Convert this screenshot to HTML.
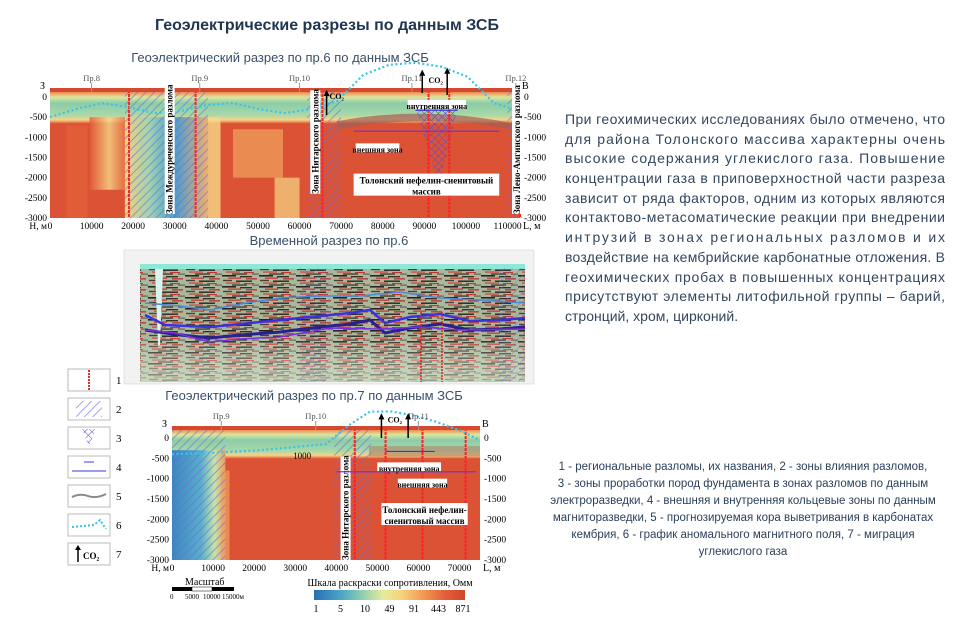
<!DOCTYPE html>
<html><head><meta charset="utf-8">
<style>
body{margin:0;background:#fff;width:972px;height:622px;overflow:hidden;font-family:"Liberation Sans",sans-serif;}
.t{font-family:"Liberation Serif",serif;}
</style></head>
<body>
<svg id="svg" width="972" height="622" xmlns="http://www.w3.org/2000/svg">
<defs>
<linearGradient id="cbar" x1="0" x2="1">
<stop offset="0" stop-color="#2a6fb0"/><stop offset=".18" stop-color="#4aa6c8"/><stop offset=".32" stop-color="#8fd0b0"/><stop offset=".46" stop-color="#e6ec9c"/><stop offset=".58" stop-color="#f6d27a"/><stop offset=".72" stop-color="#f29a55"/><stop offset=".86" stop-color="#e4623a"/><stop offset="1" stop-color="#d2442c"/></linearGradient>
<linearGradient id="layer1" x1="0" y1="0" x2="0" y2="1">
<stop offset="0" stop-color="#e0573a"/><stop offset=".1" stop-color="#f2a060"/><stop offset=".22" stop-color="#d8e8a0"/><stop offset=".4" stop-color="#8ccca8"/><stop offset=".75" stop-color="#a8d8a8"/><stop offset=".9" stop-color="#f4d488"/><stop offset="1" stop-color="#e6683c"/></linearGradient>
<linearGradient id="blueCol" x1="0" x2="1">
<stop offset="0" stop-color="#f4cf80"/><stop offset=".3" stop-color="#9ed4b0"/><stop offset=".6" stop-color="#4a9ccc"/><stop offset="1" stop-color="#f0b070"/></linearGradient>
<linearGradient id="yelCol" x1="0" x2="1">
<stop offset="0" stop-color="#e25a38"/><stop offset=".5" stop-color="#f6d888"/><stop offset="1" stop-color="#e25a38"/></linearGradient>
<linearGradient id="blueLeft" x1="0" x2="1">
<stop offset="0" stop-color="#3a86c0"/><stop offset=".55" stop-color="#5aaecc"/><stop offset=".8" stop-color="#c8e4a8"/><stop offset="1" stop-color="#f09a58"/></linearGradient>
<pattern id="hatch" width="6" height="6" patternUnits="userSpaceOnUse" patternTransform="rotate(45)">
<rect width="6" height="6" fill="none"/><line x1="0" y1="0" x2="0" y2="6" stroke="#6a6ad8" stroke-width="1.6" opacity=".75"/></pattern>
<pattern id="cross" width="5" height="5" patternUnits="userSpaceOnUse" patternTransform="rotate(45)">
<path d="M0 0V5M0 0H5" stroke="#5a4ad0" stroke-width="1"/></pattern>
<pattern id="seis" width="37" height="11" patternUnits="userSpaceOnUse">
<rect width="37" height="11" fill="#a9b89c"/>
<rect x="0" y="0" width="14" height="1.6" fill="#2a2420"/><rect x="18" y="1" width="12" height="1.4" fill="#3a3028"/>
<rect x="6" y="2.5" width="13" height="1.3" fill="#c83a30"/><rect x="24" y="3.2" width="11" height="1.3" fill="#b83228"/>
<rect x="1" y="4.8" width="9" height="1.4" fill="#4a4038"/><rect x="14" y="5.5" width="16" height="1.4" fill="#2a2420"/>
<rect x="4" y="7.4" width="14" height="1.3" fill="#d04a3c"/><rect x="22" y="8" width="10" height="1.2" fill="#c03a30"/>
<rect x="10" y="9.4" width="15" height="1.3" fill="#3a3430"/><rect x="30" y="9.6" width="7" height="1" fill="#5a5048"/></pattern>
<linearGradient id="seisFade" x1="0" y1="0" x2="0" y2="1">
<stop offset="0" stop-color="#fff" stop-opacity="0"/><stop offset=".6" stop-color="#fff" stop-opacity="0"/><stop offset="1" stop-color="#d8ecd0" stop-opacity=".6"/></linearGradient>
</defs>

<text x="327" y="30" text-anchor="middle" font-size="16" font-weight="bold" fill="#1f3550">Геоэлектрические разрезы по данным ЗСБ</text>

<g>
<text x="280" y="62" text-anchor="middle" font-size="13" fill="#3a4f68">Геоэлектрический разрез по пр.6 по данным ЗСБ</text>
<g id="c1"></g>
</g>

<g>
<text x="329" y="245" text-anchor="middle" font-size="13" fill="#3a4f68">Временной разрез по пр.6</text>
<rect x="124" y="250" width="410" height="134" fill="#f2f2f2" stroke="#ccc" stroke-width=".5"/>
<rect x="140" y="266" width="385" height="116" fill="url(#seis)"/>
<rect x="140" y="266" width="385" height="116" fill="url(#seisFade)"/>
<rect x="140" y="264" width="385" height="5" fill="#8ee8d8"/>
<polygon points="155,269 163,269 160,345 158,345" fill="#d8f4ee"/>
<rect x="300" y="268" width="30" height="114" fill="url(#hatch)" opacity=".6"/>
<rect x="498" y="268" width="27" height="114" fill="url(#hatch)" opacity=".6"/>
<path d="M145 303 L180 306 L210 310 L240 304 L280 298 L320 296 L360 296 L400 292 L440 298 L480 300 L525 303" stroke="#4a8ad8" stroke-width="1.5" fill="none"/>
<path d="M145 315 L165 325 L210 327 L240 324 L280 320 L320 316 L350 313 L370 310 L385 323 L410 317 L440 314 L470 321 L500 320 L525 318" stroke="#3a32e0" stroke-width="2.5" fill="none"/>
<path d="M145 330 L180 335 L210 338 L240 335 L280 332 L320 327 L350 324 L370 320 L385 333 L410 328 L440 324 L470 330 L500 329 L525 327" stroke="#2a2090" stroke-width="3" fill="none"/>
<path d="M145 330 L175 333 L210 342 L240 339 L280 337 L330 328 L380 329 L420 327 L460 330 L525 329" stroke="#7a30e0" stroke-width="1.5" fill="none"/>
<line x1="421" y1="312" x2="421" y2="382" stroke="#e02020" stroke-width="1.5" stroke-dasharray="2 1"/>
<line x1="442" y1="312" x2="442" y2="382" stroke="#e02020" stroke-width="1.5" stroke-dasharray="2 1"/>
</g>

<g font-size="14" fill="#33465e">
<text x="565" y="124" textLength="380" lengthAdjust="spacing">При геохимических исследованиях было отмечено, что</text>
<text x="565" y="144" textLength="380" lengthAdjust="spacing">для района Толонского массива характерны очень</text>
<text x="565" y="163" textLength="380" lengthAdjust="spacing">высокие содержания углекислого газа. Повышение</text>
<text x="565" y="183" textLength="380" lengthAdjust="spacing">концентрации газа в приповерхностной части разреза</text>
<text x="565" y="203" textLength="380" lengthAdjust="spacing">зависит от ряда факторов, одним из которых являются</text>
<text x="565" y="222" textLength="380" lengthAdjust="spacing">контактово-метасоматические реакции при внедрении</text>
<text x="565" y="242" textLength="380" lengthAdjust="spacing">интрузий в зонах региональных разломов и их</text>
<text x="565" y="262" textLength="380" lengthAdjust="spacing">воздействие на кембрийские карбонатные отложения. В</text>
<text x="565" y="282" textLength="380" lengthAdjust="spacing">геохимических пробах в повышенных концентрациях</text>
<text x="565" y="301" textLength="380" lengthAdjust="spacing">присутствуют элементы литофильной группы – барий,</text>
<text x="565" y="321">стронций, хром, цирконий.</text>
</g>

<g font-size="11" class="t">
<g><rect x="68" y="369" width="42" height="22" fill="#fff" stroke="#bbb"/><line x1="89" y1="370" x2="89" y2="390" stroke="#e03030" stroke-width="2" stroke-dasharray="2 1"/><text x="116" y="384">1</text></g>
<g><rect x="68" y="398" width="42" height="22" fill="#fff" stroke="#bbb"/><rect x="76" y="401" width="26" height="16" fill="url(#hatch)"/><text x="116" y="413">2</text></g>
<g><rect x="68" y="427" width="42" height="22" fill="#fff" stroke="#bbb"/><polygon points="82,429 96,429 89,446" fill="url(#cross)"/><text x="116" y="442">3</text></g>
<g><rect x="68" y="456" width="42" height="22" fill="#fff" stroke="#bbb"/><line x1="72" y1="471" x2="106" y2="471" stroke="#3a3ae0"/><line x1="84" y1="462" x2="94" y2="462" stroke="#3a3ae0"/><text x="116" y="471">4</text></g>
<g><rect x="68" y="485" width="42" height="22" fill="#fff" stroke="#bbb"/><path d="M72 497 Q80 493 88 496 T106 494" stroke="#888" stroke-width="2" fill="none"/><text x="116" y="500">5</text></g>
<g><rect x="68" y="514" width="42" height="22" fill="#fff" stroke="#bbb"/><path d="M72 527 L94 525 L100 520 L106 529" stroke="#30c0e8" stroke-width="2" stroke-dasharray="2 2" fill="none"/><text x="116" y="529">6</text></g>
<g><rect x="68" y="543" width="42" height="22" fill="#fff" stroke="#bbb"/><line x1="78" y1="562" x2="78" y2="548" stroke="#000" stroke-width="1.5"/><polygon points="75,550 78,545 81,550"/><text x="83" y="559" font-size="9" font-weight="bold">CO₂</text><text x="116" y="558">7</text></g>
</g>

<g font-size="11.5" fill="#2a3f5a" text-anchor="middle">
<text x="743" y="470">1 - региональные разломы, их названия, 2 - зоны влияния разломов,</text>
<text x="743" y="487">3 - зоны проработки пород фундамента в зонах разломов по данным</text>
<text x="743" y="504">электроразведки, 4 - внешняя и внутренняя кольцевые зоны по данным</text>
<text x="743" y="521">магниторазведки, 5 - прогнозируемая кора выветривания в карбонатах</text>
<text x="743" y="538">кембрия, 6 - график аномального магнитного поля, 7 - миграция</text>
<text x="743" y="555">углекислого газа</text>
</g>

<g>
<text x="314" y="400" text-anchor="middle" font-size="13" fill="#3a4f68">Геоэлектрический разрез по пр.7 по данным ЗСБ</text>
<g id="c2"></g>
</g>

<g class="t" font-size="7">
<text x="185" y="585" font-size="10">Масштаб</text>
<rect x="172" y="587" width="20" height="4" fill="#000"/><rect x="192" y="587" width="20" height="4" fill="#fff" stroke="#000" stroke-width=".5"/><rect x="212" y="587" width="22" height="4" fill="#000"/>
<text x="170" y="599">0</text><text x="185" y="599">5000</text><text x="203" y="599">10000</text><text x="222" y="599">15000м</text>
</g>
<g class="t" font-size="10">
<text x="390" y="586" text-anchor="middle">Шкала раскраски сопротивления, Омм</text>
<rect x="314" y="590" width="151" height="10" fill="url(#cbar)"/>
<g id="cbLabels"></g>
</g>
</svg>
<script>
const NS='http://www.w3.org/2000/svg';
const c1Ticks=[0,10000,20000,30000,40000,50000,60000,70000,80000,90000,100000,110000];
const c2Ticks=[0,10000,20000,30000,40000,50000,60000,70000];
const depthTicks=[0,-500,-1000,-1500,-2000,-2500,-3000];
const cbValues=['1','5','10','49','91','443','871'];
const c1Profiles=[['Пр.8',10000],['Пр.9',36000],['Пр.10',60000],['Пр.11',87000],['Пр.12',112000]];
const c2Profiles=[['Пр.9',12000],['Пр.10',35000],['Пр.11',60000]];
const c1FaultZones=[[18000,38000],[61800,70000],[110000,113500]];
const c1Faults=[19000,35000,65500,91000,96000,113000];
const c2FaultZones=[[0,13000],[39500,48500]];
const c2Faults=[44500,52000,61000,71500];
const c1Mag=[-500,-300,-150,-250,-400,-350,-200,-150,-300,-400,-300,-100,550,800,850,750,500,-150,-350];
const c2Mag=[-400,-380,-360,-330,-300,-250,-200,-150,300,650,650,550,400,200,-50];

function el(t,a,p,txt){const e=document.createElementNS(NS,t);for(const k in a)e.setAttribute(k,a[k]);if(txt!==undefined)e.textContent=txt;p.appendChild(e);return e;}

function chart(g,o){
  const X=v=>o.x0+(v-0)*(o.x1-o.x0)/o.xmax;
  const Y=v=>o.y0+(0-v)*(o.y1-o.y0)/3000;
  const W=o.x1-o.x0, top=Y(0)-o.topOff;
  el('rect',{x:o.x0,y:top,width:W,height:o.y1-top,fill:'#dc5234'},g);
  o.paint(g,X,Y,top);
  o.zones.forEach(z=>{const r=el('rect',{x:X(z[0]),y:top,width:X(z[1])-X(z[0]),height:o.y1-top,fill:'url(#hatch)'},g);
    });
  o.faults.forEach(f=>{const l=el('line',{x1:X(f),x2:X(f),y1:top,y2:o.y1,stroke:'#f02828','stroke-width':2,'stroke-dasharray':'3 1'},g);
    });
  el('rect',{x:o.x0,y:top-2,width:W,height:4,fill:'#d44a30'},g);
  const pts=o.mag.map((v,i)=>X(i*o.xmax/(o.mag.length-1))+','+Y(v)).join(' ');
  const m=el('polyline',{points:pts,fill:'none',stroke:'#34c4ec','stroke-width':2.2,'stroke-dasharray':'2 2.5'},g);
  
  depthTicks.forEach(d=>{
    el('text',{x:o.x0-3,y:Y(d)+3,'text-anchor':'end','font-size':9.5,class:'t'},g,d);
    el('text',{x:o.x1+4,y:Y(d)+3,'font-size':9.5,class:'t'},g,d);
  });
  o.ticks.forEach(t=>el('text',{x:X(t),y:o.y1+11,'text-anchor':'middle','font-size':9.5,class:'t'},g,t));
  el('text',{x:o.x0-3,y:o.y1+11,'text-anchor':'end','font-size':9.5,class:'t'},g,'H, м');
  el('text',{x:o.x1+3,y:o.y1+11,'font-size':10,class:'t'},g,'L, м');
  el('text',{x:o.x0-10,y:top-1,'font-size':10,class:'t'},g,'З');
  el('text',{x:o.x1+2,y:top-1,'font-size':10,class:'t'},g,'В');
  o.profiles.forEach(p=>{el('text',{x:X(p[1]),y:top-9,'text-anchor':'middle','font-size':8.5,class:'t',fill:'#555'},g,p[0]);
    el('line',{x1:X(p[1]),x2:X(p[1]),y1:top-7,y2:top+2,stroke:'#999'},g);});
  o.extra(g,X,Y,top);
}

function label(g,x,y,w,h,lines,fs){el('rect',{x:x,y:y,width:w,height:h,fill:'#fff'},g);
  lines.forEach((s,i)=>el('text',{x:x+w/2,y:y+fs+1+i*(fs+2),'text-anchor':'middle','font-size':fs,'font-weight':'bold',class:'t'},g,s));}
function vlabel(g,x,y,s,fs){const t=el('text',{x:0,y:0,'font-size':fs,'font-weight':'bold',class:'t',transform:`translate(${x},${y}) rotate(-90)`},g,s);
  el('rect',{x:x-fs+1,y:y-s.length*fs*0.5,width:fs+1,height:s.length*fs*0.5,fill:'#fff'},g,undefined);g.appendChild(t);}
function co2(g,x,y1,y2){el('line',{x1:x,x2:x,y1:y1,y2:y2,stroke:'#000','stroke-width':1.5},g);el('polygon',{points:`${x-3},${y2+5} ${x},${y2-1} ${x+3},${y2+5}`},g);}

chart(document.getElementById('c1'),{x0:50,x1:520,y0:97,y1:218,topOff:7,xmax:113000,ticks:c1Ticks,zones:c1FaultZones,faults:c1Faults,mag:c1Mag,profiles:c1Profiles,
 paint(g,X,Y,top){
  el('rect',{x:X(0),y:top,width:X(113000)-X(0),height:Y(-650)-top,fill:'url(#layer1)'},g);
  el('rect',{x:X(4000),y:Y(-700),width:X(9000)-X(4000),height:Y(-3000)-Y(-700),fill:'#e4663c',opacity:.6},g);
  el('rect',{x:X(9500),y:Y(-500),width:X(19000)-X(9500),height:Y(-2300)-Y(-500),fill:'url(#yelCol)',opacity:.8},g);
  el('rect',{x:X(18000),y:Y(-500),width:X(38000)-X(18000),height:Y(-3000)-Y(-500),fill:'url(#blueCol)'},g);
  el('rect',{x:X(38000),y:Y(-500),width:X(41000)-X(38000),height:Y(-3000)-Y(-500),fill:'#f6d888',opacity:.8},g);
  el('rect',{x:X(44000),y:Y(-800),width:X(56000)-X(44000),height:Y(-2000)-Y(-800),fill:'#f4b468',opacity:.6},g);
  el('rect',{x:X(54000),y:Y(-2000),width:X(60000)-X(54000),height:Y(-3000)-Y(-2000),fill:'#f6d888',opacity:.7},g);
  el('path',{d:`M${X(69000)} ${Y(-600)} Q${X(90000)} ${Y(-200)} ${X(111000)} ${Y(-650)} L${X(111000)} ${Y(-800)} Q${X(90000)} ${Y(-400)} ${X(69000)} ${Y(-800)}Z`,fill:'#a06058',opacity:.7},g);
  el('path',{d:`M${X(88000)} ${Y(-300)} L${X(98000)} ${Y(-300)} L${X(93500)} ${Y(-2200)}Z`,fill:'url(#cross)'},g);
 },
 extra(g,X,Y,top){
  vlabel(g,X(29500),Y(-2900),'Зона Междуреченского разлома',9);
  vlabel(g,X(64500),Y(-2400),'Зона Нитарского разлома',9);
  vlabel(g,X(113000),Y(-2900),'Зона Лено-Амгинского разлома',9);
  label(g,X(73000),Y(-1900),X(108000)-X(73000),22,['Толонский нефелин-сиенитовый','массив'],9);
  label(g,X(73500),Y(-1150),X(84000)-X(73500),9,['внешняя зона'],8);
  label(g,X(86000),Y(-70),X(100000)-X(86000),9,['внутренняя зона'],8);
  el('line',{x1:X(88000),x2:X(98000),y1:Y(-330),y2:Y(-330),stroke:'#3a3ae0','stroke-width':1.2},g);
  el('line',{x1:X(73000),x2:X(108000),y1:Y(-850),y2:Y(-850),stroke:'#6a3ae0','stroke-width':1.2},g);
  co2(g,X(66500),Y(-450),Y(150));co2(g,X(89500),Y(100),Y(650));co2(g,X(95500),Y(50),Y(700));
  el('text',{x:X(67200),y:Y(0)+2,'font-size':8,'font-weight':'bold',class:'t'},g,'CO₂');
  el('text',{x:X(91000),y:Y(350),'font-size':8,'font-weight':'bold',class:'t'},g,'CO₂');
 }});

chart(document.getElementById('c2'),{x0:172,x1:480,y0:438,y1:560,topOff:10,xmax:75000,ticks:c2Ticks,zones:c2FaultZones,faults:c2Faults,mag:c2Mag,profiles:c2Profiles,
 paint(g,X,Y,top){
  el('rect',{x:X(0),y:top,width:X(75000)-X(0),height:Y(-500)-top,fill:'url(#layer1)'},g);
  el('rect',{x:X(0),y:Y(-300),width:X(13000)-X(0),height:Y(-3000)-Y(-300),fill:'url(#blueLeft)'},g);
  el('rect',{x:X(12000),y:Y(-800),width:X(14000)-X(12000),height:Y(-3000)-Y(-800),fill:'#f2a060',opacity:.7},g);
  el('rect',{x:X(48000),y:Y(-200),width:X(75000)-X(48000),height:Y(-450)-Y(-200),fill:'#b08068',opacity:.6},g);
 },
 extra(g,X,Y,top){
  vlabel(g,X(43000),Y(-3000),'Зона Нитарского разлома',9);
  label(g,X(51000),Y(-1600),X(72000)-X(51000),22,['Толонский нефелин-','сиенитовый массив'],9);
  label(g,X(55000),Y(-1000),X(67000)-X(55000),9,['внешняя зона'],8);
  label(g,X(50000),Y(-600),X(65500)-X(50000),9,['внутренняя зона'],8);
  el('line',{x1:X(52000),x2:X(64000),y1:Y(-330),y2:Y(-330),stroke:'#3a3ae0','stroke-width':1.2},g);
  el('line',{x1:X(40000),x2:X(74000),y1:Y(-830),y2:Y(-830),stroke:'#6a3ae0','stroke-width':1.2},g);
  co2(g,X(51000),Y(0),Y(580));co2(g,X(57500),Y(0),Y(580));
  el('text',{x:X(52500),y:Y(380),'font-size':8,'font-weight':'bold',class:'t'},g,'CO₂');
  el('text',{x:X(29500),y:Y(-520),'font-size':9,class:'t'},g,'1000');
 }});

const cb=document.getElementById('cbLabels');
cbValues.forEach((v,i)=>el('text',{x:316+i*24.5,y:612,'text-anchor':'middle'},cb,v));
</script>
</body></html>
